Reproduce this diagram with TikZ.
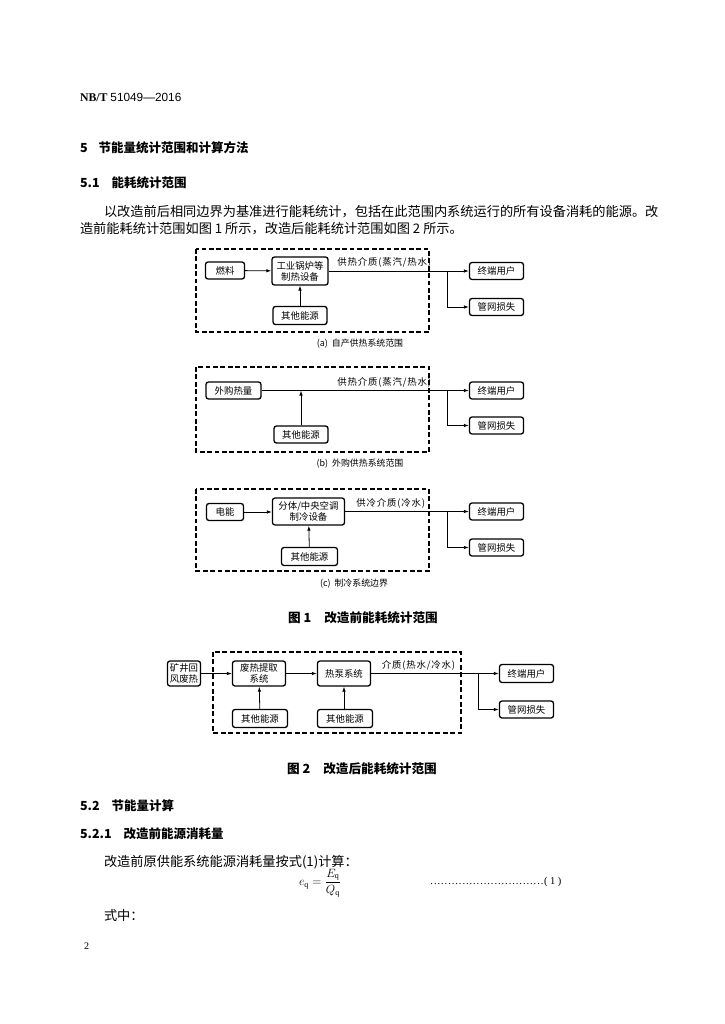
\documentclass[tikz,border=0pt]{standalone}
\usepackage{fontspec}
\usepackage{amsmath}
\setmainfont{Liberation Serif}
\setsansfont{Liberation Sans}
\newfontfamily\cjk{Noto Sans CJK SC}
\newfontfamily\cjkls{Noto Sans CJK SC}[LetterSpace=9]
\usetikzlibrary{arrows.meta}
\tikzset{
  txt/.style={inner sep=0pt, outer sep=0pt},
  body/.style={txt, anchor=west, font=\cjk\fontsize{13.2}{14}\selectfont},
  head/.style={txt, anchor=west, font=\cjk\bfseries\fontsize{12.5}{14}\selectfont},
  dtxt/.style={font=\cjk\fontsize{9.4}{11}\selectfont},
  bx/.style={draw, line width=1.3pt, rounded corners=2.5pt, inner sep=0pt, align=center, dtxt},
  frame/.style={draw, line width=1.2pt, dash pattern=on 4.8pt off 2.6pt},
  conn/.style={line width=0.8pt},
  arr/.style={conn, -{Latex[length=5pt,width=3.5pt]}},
  lab/.style={txt, font=\cjkls\fontsize{9.4}{11}\selectfont},
  subcap/.style={txt, font=\cjk\fontsize{8.9}{10}\selectfont},
  figcap/.style={txt, font=\cjk\bfseries\fontsize{12.6}{14}\selectfont}
}
\begin{document}
\begin{tikzpicture}[x=1pt,y=-1pt]
\path[use as bounding box, fill=white] (0,0) rectangle (724,1024);

% ---------- header text ----------
\node[txt, anchor=west, font=\fontsize{11.8}{13}\selectfont] (hdr) at (80,97) {\textbf{NB/T} {\sffamily 51049—2016}};
\node[head] (h5) at (80,148) {5\hspace{11pt}节能量统计范围和计算方法};
\node[head] (h51) at (80,183) {5.1\hspace{12pt}能耗统计范围};
\node[body] (p1) at (104,212) {以改造前后相同边界为基准进行能耗统计，包括在此范围内系统运行的所有设备消耗的能源。改};
\node[body] (p2) at (80,229) {造前能耗统计范围如图 1 所示，改造后能耗统计范围如图 2 所示。};

% ---------- diagram (a) ----------
\draw[frame] (196,249) rectangle (429,332);
\node[bx, minimum width=39pt, minimum height=17pt] (a1) at (225,270.5) {燃料};
\node[bx, minimum width=56pt, minimum height=28pt] (a2) at (300,271) {工业锅炉等\\制热设备};
\node[bx, minimum width=54pt, minimum height=18pt] (a3) at (300,315.5) {其他能源};
\node[bx, minimum width=54pt, minimum height=17pt] (a4) at (496.5,271) {终端用户};
\node[bx, minimum width=54pt, minimum height=17pt] (a5) at (496.5,307) {管网损失};
\coordinate (aj) at (447,271);
\draw[arr] (a1) -- (a2);
\draw[arr] (a3) -- (a2);
\draw[arr] (a2.east |- aj) -- (a4);
\draw[arr] (aj) |- (a5);
\node[lab, anchor=south east] (al) at (431,267.5) {供热介质(蒸汽/热水)};
\node[subcap] (ac) at (360,344) {(a)\ \ 自产供热系统范围};

% ---------- diagram (b) ----------
\draw[frame] (196,367) rectangle (429,452);
\node[bx, minimum width=55pt, minimum height=17pt] (b1) at (233.5,390.5) {外购热量};
\node[bx, minimum width=54pt, minimum height=17pt] (b3) at (301,434.5) {其他能源};
\node[bx, minimum width=54pt, minimum height=17pt] (b4) at (496.5,390.5) {终端用户};
\node[bx, minimum width=54pt, minimum height=17pt] (b5) at (496.5,425.5) {管网损失};
\coordinate (bj) at (447,390.5);
\coordinate (bm) at (301,390.5);
\draw[conn] (b1) -- (bm);
\draw[arr] (bm) -- (b4);
\draw[arr] (b3) -- (bm);
\draw[arr] (bj) |- (b5);
\node[lab, anchor=south east] (bl) at (431,387) {供热介质(蒸汽/热水)};
\node[subcap] (bc) at (360,464) {(b)\ \ 外购供热系统范围};

% ---------- diagram (c) ----------
\draw[frame] (196,489) rectangle (429,571);
\node[bx, minimum width=37pt, minimum height=17pt] (c1) at (225,512) {电能};
\node[bx, minimum width=72pt, minimum height=27pt] (c2) at (308.5,511.5) {分体/中央空调\\制冷设备};
\node[bx, minimum width=56pt, minimum height=18pt] (c3) at (309.5,556.5) {其他能源};
\node[bx, minimum width=54pt, minimum height=17pt] (c4) at (496.5,511.5) {终端用户};
\node[bx, minimum width=54pt, minimum height=17pt] (c5) at (496.5,547.5) {管网损失};
\coordinate (cj) at (447,511.5);
\draw[arr] (c1) -- (c1 -| c2.west);
\draw[arr] (c3) -- (c2);
\draw[arr] (c2.east |- cj) -- (c4);
\draw[arr] (cj) |- (c5);
\node[lab, anchor=south east] (cl) at (425,508) {供冷介质(冷水)};
\node[subcap] (cc) at (354,584) {(c)\ \ 制冷系统边界};

\node[figcap] (f1) at (363,618) {图\ 1\hspace{13pt}改造前能耗统计范围};

% ---------- figure 2 ----------
\draw[frame] (213,652) rectangle (461,733);
\node[bx, minimum width=33pt, minimum height=25pt] (d0) at (184,673.5) {矿井回\\风废热};
\node[bx, minimum width=53pt, minimum height=25pt] (d1) at (259,673.5) {废热提取\\系统};
\node[bx, minimum width=53pt, minimum height=25pt] (d2) at (344,673.5) {热泵系统};
\node[bx, minimum width=55pt, minimum height=18pt] (d3) at (260,718.5) {其他能源};
\node[bx, minimum width=55pt, minimum height=18pt] (d4) at (345,718.5) {其他能源};
\node[bx, minimum width=54pt, minimum height=18pt] (d5) at (526.5,673.5) {终端用户};
\node[bx, minimum width=54pt, minimum height=17pt] (d6) at (526.5,709.5) {管网损失};
\coordinate (dj) at (478,673.5);
\draw[arr] (d0) -- (d1);
\draw[arr] (d1) -- (d2);
\draw[arr] (d3) -- (d1);
\draw[arr] (d4.north -| d2) -- (d2);
\draw[arr] (d2) -- (d5);
\draw[arr] (dj) |- (d6);
\node[lab, anchor=south east] (dl) at (455,670) {介质(热水/冷水)};

\node[figcap] (f2) at (362,769) {图\ 2\hspace{13pt}改造后能耗统计范围};

% ---------- bottom text ----------
\node[head] (h52) at (80,806) {5.2\hspace{12pt}节能量计算};
\node[head] (h521) at (80,834) {5.2.1\hspace{12pt}改造前能源消耗量};
\node[body] (p3) at (104,862) {改造前原供能系统能源消耗量按式(1)计算：};
\node[txt, font=\fontsize{12}{14}\selectfont] (eq) at (320,883) {$e_{\mathrm{q}}=\dfrac{E_{\mathrm{q}}}{Q_{\mathrm{q}}}$};
\node[txt, anchor=west, font=\fontsize{10.5}{12}\selectfont] (dots) at (430,882) {\makebox[114pt]{\leaders\hbox to 3.56pt{\hss.\hss}\hfill}(\ 1\ )};
\node[body] (p4) at (104,915) {式中：};
\node[txt, anchor=west, font=\fontsize{10}{12}\selectfont] (pg) at (84,946) {2};
\end{tikzpicture}
\end{document}
